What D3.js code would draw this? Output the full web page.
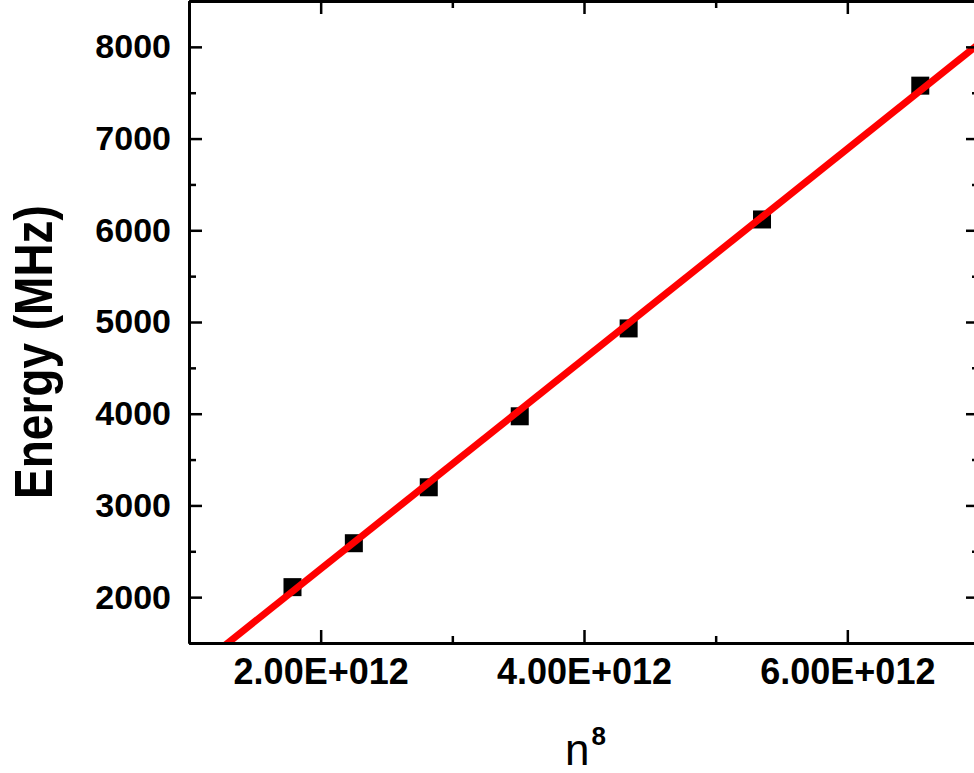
<!DOCTYPE html>
<html>
<head>
<meta charset="utf-8">
<script src="https://cdn.jsdelivr.net/npm/d3@7"></script>
<style>
  body{margin:0;background:#fff;}
  svg{display:block;font-family:"Liberation Sans",Arial,sans-serif;}
  .axis path,.axis line{stroke:#000;}
</style>
</head>
<body>
<script>
	//Screen properties
	var screenwidth=974, screenheight=773;

	//data
	var nPow8=[1.786e12,2.252e12,2.821e12,3.512e12,4.339e12,5.352e12,6.554e12];
	var energy=[2109,2588,3198,3972,4930,6118,7577];
	//linear fit (red line)
	var fitSlope=1.1451e-9, fitIntercept=17;

	var xMajor=[2e12,4e12,6e12];
	var xMinor=[1e12,3e12,5e12,7e12];
	var yMajor=[2000,3000,4000,5000,6000,7000,8000];
	var yMinor=[1500,2500,3500,4500,5500,6500,7500,8500];

	var plotLeft=189, plotRight=979, plotTop=1, plotBottom=643;

	var svg=d3.select("body").append("svg")
		.attr("width",screenwidth)
		.attr("height",screenheight);

	var x=d3.scaleLinear().domain([1e12,7e12]).range([plotLeft,plotRight]);
	var y=d3.scaleLinear().domain([1500,8500]).range([plotBottom,plotTop]);

	svg.append("clipPath").attr("id","plot")
		.append("rect").attr("x",plotLeft).attr("y",plotTop).attr("width",plotRight-plotLeft).attr("height",plotBottom-plotTop);

	//POINTS
	var pts=nPow8.map(function(v,i){return {x:v,y:energy[i]};});
	svg.append("g").selectAll("rect").data(pts).enter()
		.append("rect")
		.attr("x",function(d){return x(d.x)-9;})
		.attr("y",function(d){return y(d.y)-9;})
		.attr("width",18)
		.attr("height",18)
		.attr("fill","#000");

	//FIT LINE
	var fit=x.domain().map(function(v){return {x:v,y:fitIntercept+fitSlope*v};});
	svg.append("path")
		.datum(fit)
		.attr("clip-path","url(#plot)")
		.attr("fill","none")
		.attr("stroke","#ff0000")
		.attr("stroke-width",7)
		.attr("d",d3.line().x(function(d){return x(d.x);}).y(function(d){return y(d.y);}));

	var fmtX=function(d){return (d/1e12).toFixed(2)+"E+012";};

	function styleAxis(g,size){
		g.attr("class","axis");
		g.select(".domain").attr("stroke-width",3);
		g.selectAll(".tick line").attr("stroke-width",2.5);
		g.selectAll("text").attr("fill","#000").attr("font-weight","bold").attr("font-size",size)
			.attr("font-family","Liberation Sans, Arial, sans-serif");
	}

	//MINOR TICKS
	svg.append("g").attr("transform","translate(0,"+plotBottom+")")
		.call(d3.axisBottom(x).tickValues(xMinor).tickSize(-7).tickSizeOuter(0).tickFormat(""))
		.call(styleAxis,0);
	svg.append("g").attr("transform","translate(0,"+plotTop+")")
		.call(d3.axisTop(x).tickValues(xMinor).tickSize(-7).tickSizeOuter(0).tickFormat(""))
		.call(styleAxis,0);
	svg.append("g").attr("transform","translate("+plotLeft+",0)")
		.call(d3.axisLeft(y).tickValues(yMinor).tickSize(-7).tickSizeOuter(0).tickFormat(""))
		.call(styleAxis,0);
	svg.append("g").attr("transform","translate("+plotRight+",0)")
		.call(d3.axisRight(y).tickValues(yMinor).tickSize(-7).tickSizeOuter(0).tickFormat(""))
		.call(styleAxis,0);

	//MAJOR TICKS + LABELS
	svg.append("g").attr("transform","translate(0,"+plotBottom+")")
		.call(d3.axisBottom(x).tickValues(xMajor).tickSize(-13).tickSizeOuter(0).tickPadding(15).tickFormat(fmtX))
		.call(styleAxis,36);
	svg.append("g").attr("transform","translate(0,"+plotTop+")")
		.call(d3.axisTop(x).tickValues(xMajor).tickSize(-13).tickSizeOuter(0).tickFormat(""))
		.call(styleAxis,0);
	svg.append("g").attr("transform","translate("+plotLeft+",0)")
		.call(d3.axisLeft(y).tickValues(yMajor).tickSize(-13).tickSizeOuter(0).tickPadding(18).tickFormat(d3.format("d")))
		.call(styleAxis,34);
	svg.append("g").attr("transform","translate("+plotRight+",0)")
		.call(d3.axisRight(y).tickValues(yMajor).tickSize(-13).tickSizeOuter(0).tickFormat(""))
		.call(styleAxis,0);

	//AXIS TITLES
	svg.append("text")
		.attr("transform","translate(52,352) rotate(-90) scale(1,1.15)")
		.attr("text-anchor","middle")
		.attr("font-size",46)
		.attr("font-weight","bold")
		.text("Energy (MHz)");

	var xt=svg.append("text")
		.attr("x",565)
		.attr("y",765)
		.attr("font-size",44);
	xt.append("tspan").text("n");
	xt.append("tspan").attr("dy",-20).attr("dx",2).attr("font-size",26).attr("font-weight","bold").text("8");
</script>
</body>
</html>
